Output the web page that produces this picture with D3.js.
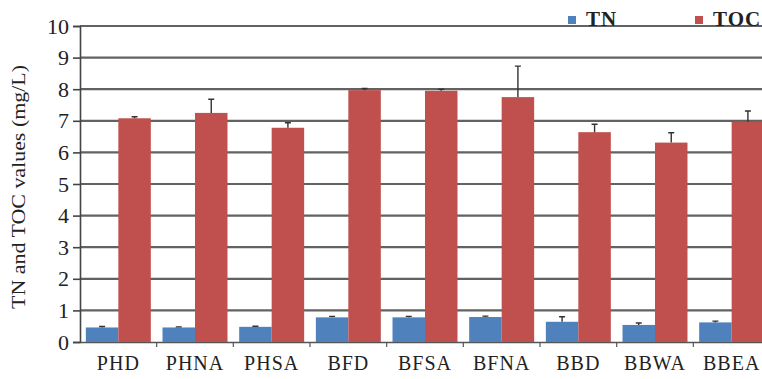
<!DOCTYPE html>
<html>
<head>
<meta charset="utf-8">
<script src="https://cdn.jsdelivr.net/npm/d3@7"></script>
<style>
  html, body { margin: 0; padding: 0; background: #fff; overflow: hidden; }
  svg { display: block; }
  text { font-family: "Liberation Serif", "Times New Roman", serif; fill: #222; }
</style>
</head>
<body>
<svg id="chart" width="762" height="379"></svg>
<script>
// Sampling sites
const categories = ["PHD", "PHNA", "PHSA", "BFD", "BFSA", "BFNA", "BBD", "BBWA", "BBEA"];
// Total nitrogen (mg/L) and its standard deviation
const tnValues = [0.46, 0.46, 0.48, 0.78, 0.78, 0.79, 0.64, 0.54, 0.62];
const tnErrors = [0.03, 0.02, 0.02, 0.03, 0.03, 0.03, 0.16, 0.06, 0.04];
// Total organic carbon (mg/L) and its standard deviation
const tocValues = [7.08, 7.25, 6.78, 7.97, 7.95, 7.75, 6.64, 6.31, 6.97];
const tocErrors = [0.05, 0.43, 0.16, 0.05, 0.05, 0.98, 0.25, 0.31, 0.34];
const yTicks = [0, 1, 2, 3, 4, 5, 6, 7, 8, 9, 10];
const seriesNames = ["TN", "TOC"];
const colors = ["#4F81BD", "#C0504D"];

const svg = d3.select("#chart");
const margin = { left: 80, top: 26, right: 770, bottom: 342 };

const x = d3.scaleBand().domain(categories).range([margin.left, margin.right]).paddingInner(0).paddingOuter(0);
const y = d3.scaleLinear().domain([0, 10]).range([margin.bottom, margin.top]);
const inner = d3.scaleBand().domain(seriesNames).range([0, x.bandwidth()]).paddingInner(0).paddingOuter(0.18);

// Horizontal gridlines
svg.append("g").selectAll("line").data(yTicks.filter(d => d > 0)).join("line")
  .attr("x1", margin.left).attr("x2", margin.right)
  .attr("y1", d => y(d)).attr("y2", d => y(d))
  .attr("stroke", "#626262").attr("stroke-width", 2.2);

// Y axis
const yAxis = svg.append("g").attr("transform", `translate(${margin.left},0)`)
  .call(d3.axisLeft(y).tickValues(yTicks).tickSize(7).tickPadding(4));
yAxis.select(".domain").attr("stroke", "#444").attr("stroke-width", 1.6);
yAxis.selectAll(".tick line").attr("stroke", "#444").attr("stroke-width", 1.6);
yAxis.selectAll(".tick text").attr("font-size", 22).attr("font-family", "Liberation Serif").attr("fill", "#333");

// X axis with ticks between categories
const xAxis = svg.append("g").attr("transform", `translate(0,${margin.bottom})`)
  .call(d3.axisBottom(x).tickSize(0).tickPadding(14));
xAxis.select(".domain").attr("stroke", "#555").attr("stroke-width", 1.6);
xAxis.selectAll(".tick text").attr("font-size", 20).attr("letter-spacing", 1)
  .attr("font-family", "Liberation Serif").attr("fill", "#333");
svg.append("g").selectAll("line").data(categories.slice(1)).join("line")
  .attr("x1", d => x(d)).attr("x2", d => x(d))
  .attr("y1", margin.bottom).attr("y2", margin.bottom + 5)
  .attr("stroke", "#555").attr("stroke-width", 1.2);

// Bars
const rows = categories.map((c, i) => ({
  cat: c,
  items: [
    { s: "TN", v: tnValues[i], e: tnErrors[i], color: colors[0] },
    { s: "TOC", v: tocValues[i], e: tocErrors[i], color: colors[1] }
  ]
}));
const groups = svg.append("g").selectAll("g").data(rows).join("g")
  .attr("transform", d => `translate(${x(d.cat)},0)`);
groups.selectAll("rect").data(d => d.items).join("rect")
  .attr("x", d => inner(d.s)).attr("width", inner.bandwidth())
  .attr("y", d => y(d.v)).attr("height", d => y(0) - y(d.v))
  .attr("fill", d => d.color);

// Upper error bars
groups.selectAll("path.err").data(d => d.items).join("path").attr("class", "err")
  .attr("d", d => {
    const cx = inner(d.s) + inner.bandwidth() / 2;
    const top = y(d.v + d.e), base = y(d.v);
    return `M${cx},${base}V${top}M${cx - 3},${top}H${cx + 3}`;
  })
  .attr("stroke", "#333").attr("stroke-width", 1.4).attr("fill", "none");

// Y axis title
svg.append("text")
  .attr("transform", "translate(25,187) rotate(-90)")
  .attr("text-anchor", "middle").attr("font-size", 18).attr("fill", "#333")
  .attr("textLength", 244).attr("lengthAdjust", "spacingAndGlyphs")
  .text("TN and TOC values (mg/L)");

// Legend
const legendX = [568, 695];
const legend = svg.append("g").selectAll("g").data(seriesNames).join("g")
  .attr("transform", (d, i) => `translate(${legendX[i]},16)`);
legend.append("rect").attr("width", 8).attr("height", 8).attr("fill", (d, i) => colors[i]);
legend.append("text").attr("x", 18).attr("y", 10).attr("font-size", 21).attr("font-weight", "bold")
  .attr("letter-spacing", 1).attr("fill", "#222").text(d => d);
</script>
</body>
</html>
